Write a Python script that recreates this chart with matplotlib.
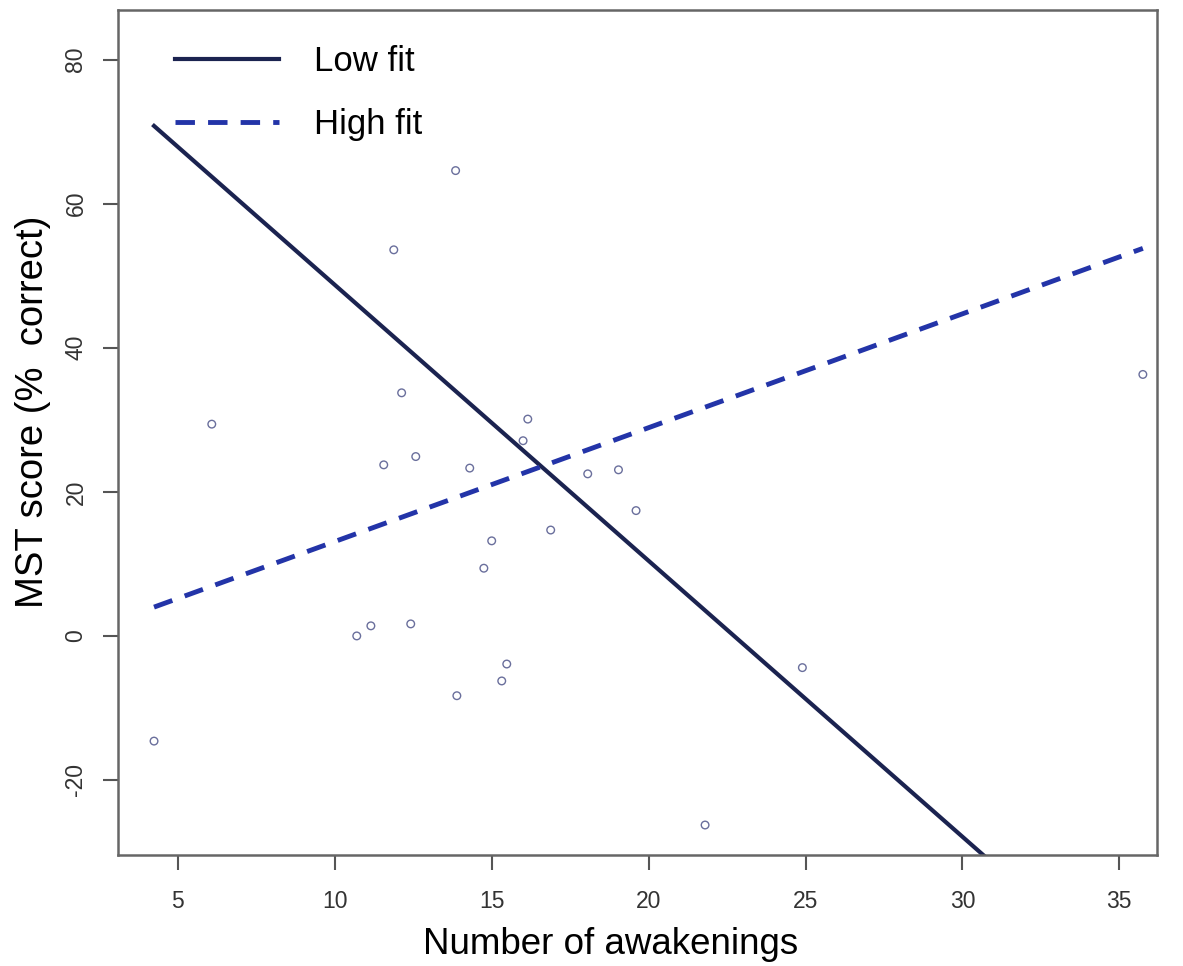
import matplotlib.pyplot as plt
import numpy as np

plt.rcParams['font.family'] = ['Liberation Sans', 'DejaVu Sans']

# awakenings vs MST score
awakenings = [4.24, 6.08, 10.7, 11.15, 11.56, 11.88, 12.13, 12.42, 12.58, 13.85,
              13.89, 14.3, 14.75, 15.0, 15.32, 15.48, 16.0, 16.15, 16.88, 18.06,
              19.04, 19.6, 21.8, 24.9, 35.75]
mst_score = [-14.6, 29.4, 0.0, 1.4, 23.75, 53.6, 33.75, 1.67, 24.9, 64.6,
             -8.3, 23.3, 9.4, 13.2, -6.25, -3.9, 27.1, 30.1, 14.7, 22.5,
             23.06, 17.4, -26.25, -4.4, 36.3]

# fitted lines, endpoints at min / max awakenings
fit_x = [4.24, 35.75]
low_fit_y = [70.8, -49.9]
high_fit_y = [4.0, 53.8]

x_ticks = [5, 10, 15, 20, 25, 30, 35]
y_ticks = [-20, 0, 20, 40, 60, 80]

fig = plt.figure(figsize=(11.83, 9.66), dpi=100)
ax = fig.add_axes([0.0997, 0.115, 0.8783, 0.8747])

ax.scatter(awakenings, mst_score, s=30, facecolors='none', edgecolors='#6a6f9c',
           linewidths=1.0, zorder=3)
ax.plot(fit_x, low_fit_y, color='#1b2350', lw=3, label='Low fit', zorder=2)
ax.plot(fit_x, high_fit_y, color='#2334a8', lw=3.5, ls=(0, (4, 2.7)),
        label='High fit', zorder=2)

ax.set_xlim(3.09, 36.2)
ax.set_ylim(-30.4, 86.9)
ax.set_xticks(x_ticks)
ax.set_yticks(y_ticks)
ax.set_yticklabels([str(v) for v in y_ticks], rotation=90, va='center')

ax.tick_params(axis='both', direction='out', length=11, width=1.5, color='#555555',
               labelsize=16.5, labelcolor='#333333')
ax.tick_params(axis='x', pad=14)
ax.tick_params(axis='y', pad=11)
for sp in ax.spines.values():
    sp.set_color('#666666')
    sp.set_linewidth(1.8)

ax.set_xlabel('Number of awakenings', fontsize=26.5, labelpad=14)
ax.xaxis.set_label_coords(0.4745, -0.085)
ax.set_ylabel('MST score (%  correct)', fontsize=27.5, labelpad=10)
ax.yaxis.label.set_y(0.524)

ax.legend(loc='upper left', frameon=False, fontsize=25, handlelength=3.0,
          handletextpad=1.0, labelspacing=0.85, borderaxespad=0.4,
          bbox_to_anchor=(0.028, 0.991))

fig.savefig('out.png', dpi=100)
